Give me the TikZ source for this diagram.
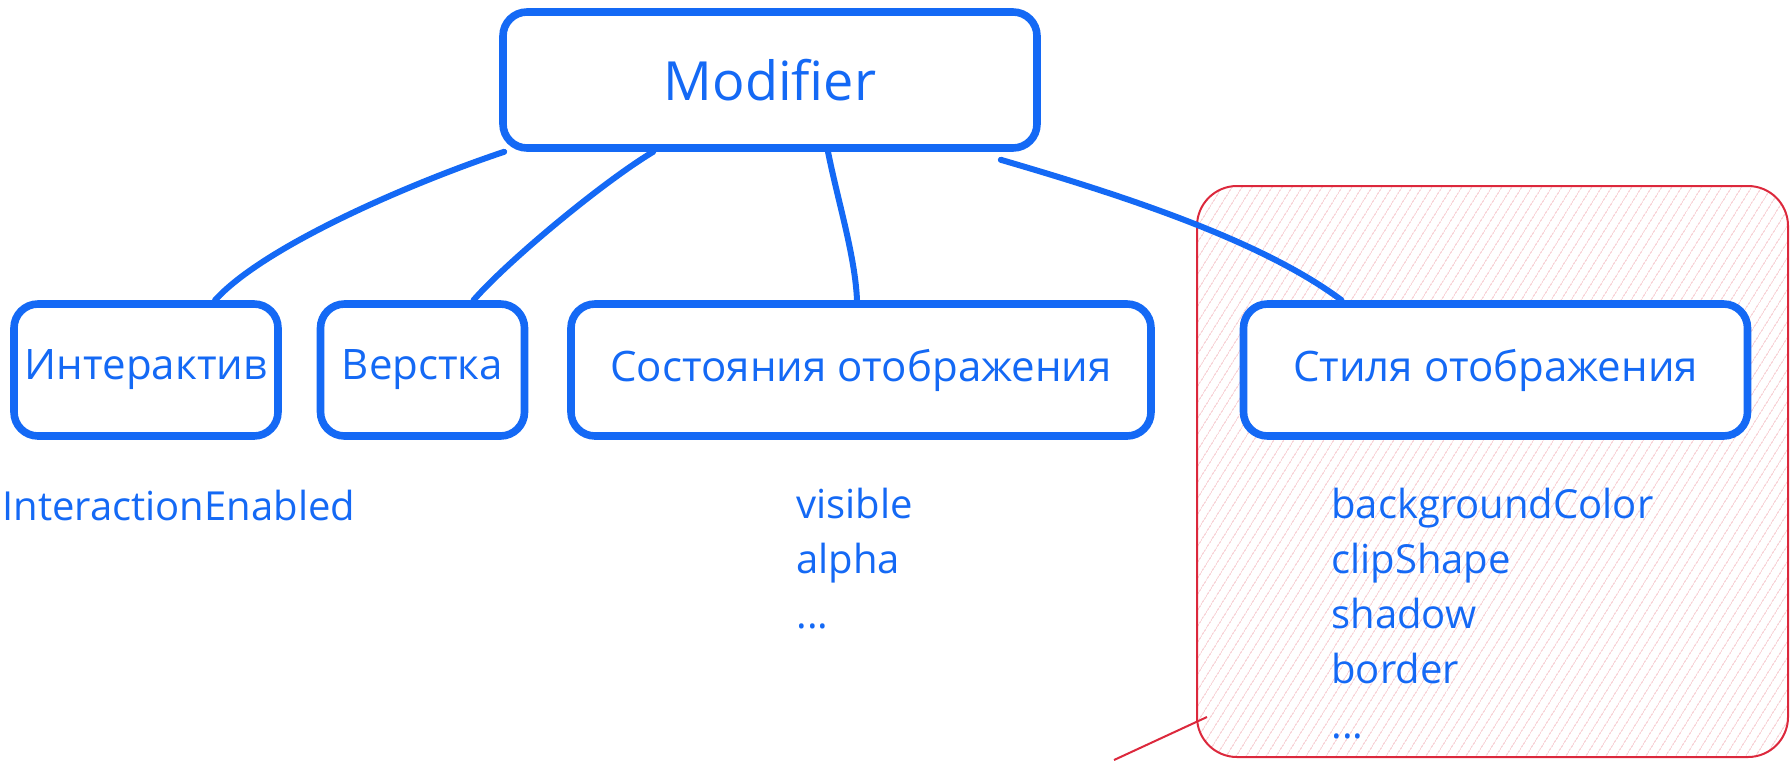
\documentclass[tikz,border=0pt]{standalone}
\usepackage{fontspec}
\setmainfont{Open Sans}
\usetikzlibrary{patterns.meta}
\definecolor{exblue}{RGB}{20,105,245}
\definecolor{exred}{RGB}{220,40,60}

\begin{document}
\begin{tikzpicture}[x=0.5pt, y=-0.5pt,
  box/.style={draw=exblue, line width=3.8pt, rounded corners=12pt, fill=white, text=exblue,
    font=\fontsize{21}{25}\selectfont, minimum height=66pt, inner sep=0pt},
  link/.style={draw=exblue, line width=3pt, line cap=round},
  lst/.style={text=exblue, font=\fontsize{20}{27.5}\selectfont, align=left, inner sep=0pt, anchor=north west}]
\useasboundingbox (0,0) rectangle (1791,760);
\draw[exred, line width=1pt, rounded corners=20pt, pattern={Lines[angle=58, distance=4pt, line width=0.45pt]},
  pattern color=exred!30] (1197,186) rectangle (1788,757);
\draw[exred, line width=1pt] (1114,760) -- (1207,717);
\node[box, minimum width=267pt, minimum height=68pt, font=\fontsize{27}{31}\selectfont] (mod) at (770,80) {Modifier};
\node[box, minimum width=132pt] (int) at (146,370) {Интерактив};
\node[box, minimum width=102pt] (ver) at (422.5,370) {Верстка};
\node[box, minimum width=290pt] (sost) at (861,370) {Состояния отображения};
\node[box, minimum width=252pt] (stil) at (1495.5,370) {Стиля отображения};
\node[lst, anchor=base west] (ie) at (2,520) {InteractionEnabled};
\node[lst] (vis) at (796,488) {visible\\alpha\\...};
\node[lst] (bg) at (1331,488) {backgroundColor\\clipShape\\shadow\\border\\...};
\draw[link] ([xshift=2.5pt]mod.south west) .. controls +(-90,30) and +(50,-55) .. ([xshift=34.5pt]int.north);
\draw[link] ([xshift=77pt]mod.south west) .. controls +(-50,30) and +(35,-40) .. ([xshift=25.5pt]ver.north);
\draw[link] ([xshift=29pt]mod.south) .. controls +(10,50) and +(-2,-45) .. ([xshift=-2pt]sost.north);
\draw[link] ([xshift=-20pt,yshift=-4pt]mod.south east) .. controls +(120,35) and +(-80,-60) .. ([xshift=-77pt]stil.north);
\end{tikzpicture}
\end{document}
